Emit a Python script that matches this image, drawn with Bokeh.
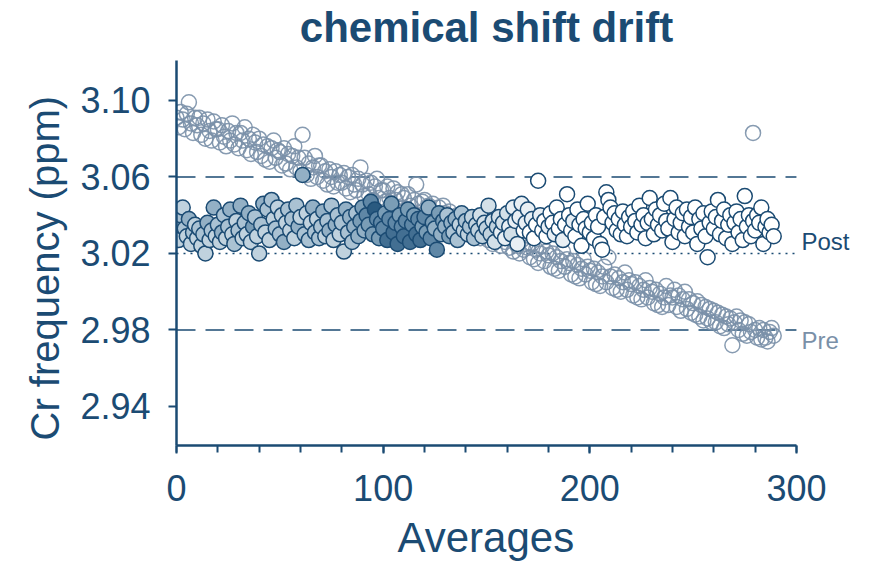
from bokeh.plotting import figure
from bokeh.models import Range1d, Label, Title, ColumnDataSource, FixedTicker, PrintfTickFormatter
from bokeh.transform import linear_cmap
from bokeh.embed import file_html
from bokeh.resources import INLINE

# ---------------- data ----------------
averages = list(range(290))

pre_ppm = [
    3.091, 3.086, 3.094, 3.090, 3.085, 3.093, 3.099, 3.088, 3.083, 3.091,
    3.087, 3.091, 3.082, 3.088, 3.080, 3.090, 3.084, 3.079, 3.089, 3.085,
    3.085, 3.078, 3.087, 3.081, 3.076, 3.084, 3.079, 3.088, 3.077, 3.083,
    3.075, 3.083, 3.079, 3.086, 3.074, 3.080, 3.072, 3.082, 3.078, 3.073,
    3.080, 3.071, 3.077, 3.069, 3.076, 3.068, 3.075, 3.079, 3.070, 3.074,
    3.073, 3.066, 3.075, 3.067, 3.072, 3.064, 3.071, 3.076, 3.065, 3.070,
    3.063, 3.082, 3.070, 3.061, 3.067, 3.059, 3.065, 3.071, 3.060, 3.066,
    3.066, 3.058, 3.063, 3.056, 3.064, 3.060, 3.055, 3.063, 3.057, 3.061,
    3.057, 3.062, 3.054, 3.060, 3.052, 3.061, 3.056, 3.053, 3.059, 3.065,
    3.056, 3.050, 3.058, 3.051, 3.057, 3.048, 3.055, 3.059, 3.049, 3.053,
    3.053, 3.047, 3.055, 3.049, 3.045, 3.054, 3.048, 3.052, 3.044, 3.051,
    3.049, 3.043, 3.051, 3.045, 3.041, 3.048, 3.056, 3.046, 3.040, 3.047,
    3.048, 3.039, 3.045, 3.038, 3.046, 3.041, 3.037, 3.044, 3.039, 3.045,
    3.041, 3.035, 3.042, 3.033, 3.039, 3.036, 3.040, 3.032, 3.038, 3.034,
    3.037, 3.031, 3.036, 3.029, 3.035, 3.032, 3.036, 3.028, 3.034, 3.030,
    3.033, 3.027, 3.032, 3.025, 3.031, 3.028, 3.032, 3.024, 3.030, 3.026,
    3.029, 3.023, 3.028, 3.021, 3.027, 3.024, 3.020, 3.027, 3.022, 3.025,
    3.023, 3.018, 3.025, 3.017, 3.022, 3.015, 3.020, 3.024, 3.016, 3.021,
    3.019, 3.013, 3.020, 3.012, 3.018, 3.011, 3.016, 3.021, 3.013, 3.017,
    3.015, 3.009, 3.016, 3.008, 3.014, 3.007, 3.012, 3.017, 3.009, 3.013,
    3.011, 3.005, 3.012, 3.004, 3.010, 3.003, 3.008, 3.013, 3.005, 3.018,
    3.008, 3.002, 3.009, 3.001, 3.007, 3.000, 3.005, 3.010, 3.001, 3.006,
    3.004, 2.998, 3.005, 2.997, 3.003, 2.996, 3.001, 3.006, 2.997, 3.002,
    3.000, 2.994, 3.001, 2.993, 2.999, 2.992, 2.997, 3.003, 2.993, 2.998,
    2.997, 3.001, 2.992, 2.998, 2.990, 2.996, 3.000, 2.991, 2.996, 2.989,
    2.994, 2.988, 2.995, 2.987, 2.993, 2.985, 2.992, 2.986, 2.991, 2.984,
    2.990, 2.984, 2.989, 2.982, 2.988, 2.981, 2.987, 2.983, 2.986, 2.972,
    2.984, 2.987, 2.980, 2.985, 2.978, 2.984, 2.977, 2.983, 2.979, 3.083,
    2.980, 2.976, 2.981, 2.975, 2.980, 2.976, 2.974, 2.979, 2.981, 2.977,
]

post_ppm = [
    3.037, 3.027, 3.040, 3.044, 3.033, 3.029, 3.038, 3.025, 3.031, 3.035,
    3.028, 3.033, 3.024, 3.030, 3.020, 3.036, 3.027, 3.032, 3.044, 3.029,
    3.035, 3.026, 3.031, 3.040, 3.028, 3.034, 3.043, 3.030, 3.025, 3.037,
    3.032, 3.045, 3.028, 3.036, 3.030, 3.041, 3.026, 3.034, 3.039, 3.029,
    3.020, 3.035, 3.046, 3.031, 3.043, 3.027, 3.048, 3.038, 3.033, 3.044,
    3.030, 3.040, 3.026, 3.036, 3.043, 3.032, 3.038, 3.028, 3.045, 3.034,
    3.039, 3.061, 3.030, 3.041, 3.027, 3.036, 3.044, 3.031, 3.038, 3.028,
    3.034, 3.042, 3.029, 3.037, 3.032, 3.045, 3.027, 3.035, 3.040, 3.030,
    3.036, 3.021, 3.043, 3.031, 3.039, 3.026, 3.034, 3.041, 3.029, 3.037,
    3.044, 3.032, 3.040, 3.035, 3.047, 3.030, 3.043, 3.038, 3.028, 3.036,
    3.033, 3.041, 3.027, 3.038, 3.046, 3.031, 3.036, 3.025, 3.040, 3.034,
    3.029, 3.037, 3.043, 3.026, 3.035, 3.040, 3.030, 3.038, 3.027, 3.034,
    3.039, 3.031, 3.044, 3.028, 3.036, 3.033, 3.022, 3.041, 3.030, 3.037,
    3.034, 3.040, 3.029, 3.036, 3.031, 3.038, 3.027, 3.035, 3.041, 3.032,
    3.037, 3.030, 3.034, 3.039, 3.028, 3.035, 3.032, 3.040, 3.029, 3.036,
    3.033, 3.045, 3.030, 3.037, 3.026, 3.034, 3.039, 3.031, 3.036, 3.028,
    3.041, 3.034, 3.030, 3.044, 3.037, 3.025, 3.039, 3.046, 3.032, 3.036,
    3.043, 3.031, 3.038, 3.028, 3.035, 3.058, 3.040, 3.032, 3.037, 3.029,
    3.034, 3.041, 3.036, 3.030, 3.044, 3.033, 3.038, 3.027, 3.035, 3.051,
    3.040, 3.032, 3.037, 3.029, 3.043, 3.035, 3.024, 3.038, 3.033, 3.046,
    3.031, 3.036, 3.028, 3.040, 3.034, 3.025, 3.022, 3.039, 3.052, 3.048,
    3.044, 3.036, 3.041, 3.032, 3.038, 3.030, 3.042, 3.035, 3.029, 3.039,
    3.034, 3.042, 3.037, 3.031, 3.045, 3.035, 3.040, 3.028, 3.036, 3.049,
    3.038, 3.030, 3.043, 3.035, 3.040, 3.032, 3.046, 3.037, 3.033, 3.049,
    3.026, 3.038, 3.044, 3.031, 3.036, 3.041, 3.029, 3.043, 3.034, 3.039,
    3.031, 3.044, 3.025, 3.038, 3.033, 3.041, 3.029, 3.018, 3.036, 3.042,
    3.033, 3.039, 3.048, 3.030, 3.037, 3.043, 3.028, 3.035, 3.040, 3.025,
    3.036, 3.042, 3.031, 3.038, 3.027, 3.050, 3.034, 3.040, 3.029, 3.037,
    3.032, 3.040, 3.036, 3.044, 3.025, 3.034, 3.038, 3.031, 3.035, 3.029,
]

post_shade = [
    0.5, 0.3, 0.4, 0.3, 0.4, 0.3, 0.5, 0.3, 0.4, 0.3,
    0.3, 0.4, 0.3, 0.4, 0.3, 0.5, 0.3, 0.4, 0.5, 0.3,
    0.4, 0.3, 0.5, 0.4, 0.3, 0.4, 0.5, 0.3, 0.4, 0.3,
    0.4, 0.5, 0.3, 0.4, 0.3, 0.5, 0.3, 0.6, 0.4, 0.3,
    0.3, 0.4, 0.5, 0.3, 0.4, 0.3, 0.4, 0.3, 0.4, 0.3,
    0.4, 0.3, 0.5, 0.3, 0.4, 0.3, 0.4, 0.3, 0.4, 0.5,
    0.3, 0.5, 0.4, 0.3, 0.4, 0.3, 0.5, 0.4, 0.3, 0.4,
    0.4, 0.5, 0.3, 0.4, 0.5, 0.4, 0.3, 0.5, 0.4, 0.3,
    0.4, 0.3, 0.5, 0.4, 0.5, 0.4, 0.5, 0.4, 0.5, 0.6,
    0.6, 0.5, 0.7, 0.6, 0.7, 0.6, 0.9, 0.7, 0.6, 0.7,
    0.7, 0.6, 0.8, 0.7, 0.6, 0.8, 0.7, 0.8, 0.6, 0.7,
    0.8, 0.7, 0.6, 0.8, 0.7, 0.6, 0.8, 0.7, 0.8, 0.6,
    0.7, 0.6, 0.5, 0.7, 0.6, 0.5, 0.7, 0.6, 0.5, 0.6,
    0.5, 0.4, 0.6, 0.5, 0.4, 0.5, 0.4, 0.3, 0.4, 0.3,
    0.4, 0.3, 0.4, 0.3, 0.4, 0.3, 0.3, 0.2, 0.3, 0.2,
    0.3, 0.2, 0.3, 0.2, 0.2, 0.3, 0.2, 0.1, 0.2, 0.1,
    0.2, 0.1, 0.2, 0.1, 0.1, 0.1, 0.1, 0.1, 0.0, 0.1,
    0.1, 0.0, 0.1, 0.0, 0.0, 0.0, 0.1, 0.0, 0.0, 0.0,
    0.1, 0.0, 0.0, 0.1, 0.0, 0.0, 0.0, 0.1, 0.0, 0.0,
    0.0, 0.0, 0.1, 0.0, 0.0, 0.0, 0.0, 0.0, 0.0, 0.0,
    0.0, 0.0, 0.0, 0.0, 0.0, 0.0, 0.0, 0.0, 0.0, 0.0,
    0.0, 0.0, 0.0, 0.0, 0.0, 0.0, 0.0, 0.0, 0.0, 0.0,
    0.0, 0.0, 0.0, 0.0, 0.0, 0.0, 0.0, 0.0, 0.0, 0.0,
    0.0, 0.0, 0.0, 0.0, 0.0, 0.0, 0.0, 0.0, 0.0, 0.0,
    0.0, 0.0, 0.0, 0.0, 0.0, 0.0, 0.0, 0.0, 0.0, 0.0,
    0.0, 0.0, 0.0, 0.0, 0.0, 0.0, 0.0, 0.0, 0.0, 0.0,
    0.0, 0.0, 0.0, 0.0, 0.0, 0.0, 0.0, 0.0, 0.0, 0.0,
    0.0, 0.0, 0.0, 0.0, 0.0, 0.0, 0.0, 0.0, 0.0, 0.0,
    0.0, 0.0, 0.0, 0.0, 0.0, 0.0, 0.0, 0.0, 0.0, 0.0,
]

upper_level = 3.06
post_level = 3.02
pre_level = 2.98

x_min, x_max = 0, 300
y_min, y_max = 2.9196, 3.1209
x_ticks = [0, 100, 200, 300]
x_minor_ticks = [0, 20, 40, 60, 80, 100, 120, 140, 160, 180, 200, 220, 240, 260, 280, 300]
y_ticks = [2.94, 2.98, 3.02, 3.06, 3.10]

# ---------------- styling ----------------
NAVY = "#1b4b73"
PRE_COL = "#7a90a8"
FONT = "Liberation Sans"
shade_palette = ["#ffffff", "#e8eff4", "#d3e0e8", "#c0d2de", "#aac2d3", "#93b0c5",
                 "#7a9db6", "#5f87a6", "#436f92", "#2a5a80", "#12426a"]

# The frame reaches past the axes (right and top) so that the Post / Pre labels and the
# title can be drawn as in-frame text; the axes themselves are bounded to the data extent.
p = figure(width=871, height=572, output_backend="svg", toolbar_location=None,
           x_range=Range1d(x_min, 333.9), y_range=Range1d(y_min, 3.1512),
           min_border_left=176, min_border_right=5, min_border_top=2, min_border_bottom=127)
p.outline_line_color = None
p.xgrid.visible = False
p.ygrid.visible = False
p.background_fill_color = "white"
p.border_fill_color = "white"

for ax in (p.xaxis[0], p.yaxis[0]):
    ax.axis_line_color = NAVY
    ax.axis_line_width = 2.5
    ax.major_tick_line_color = NAVY
    ax.major_tick_line_width = 2
    ax.minor_tick_line_color = NAVY
    ax.minor_tick_line_width = 2
    ax.major_tick_in = 0
    ax.major_tick_out = 8
    ax.minor_tick_in = 0
    ax.minor_tick_out = 7
    ax.major_label_text_font = FONT
    ax.major_label_text_font_size = "36px"
    ax.major_label_text_color = NAVY

p.xaxis.bounds = (x_min, x_max)
p.yaxis.bounds = (y_min, y_max)
p.xaxis.ticker = FixedTicker(ticks=x_ticks, minor_ticks=x_minor_ticks)
p.yaxis.ticker = FixedTicker(ticks=y_ticks, minor_ticks=[])
p.yaxis.formatter = PrintfTickFormatter(format="%.2f")
p.xaxis.major_label_standoff = 21
p.yaxis.major_label_standoff = 18

# axis titles, positioned along the bounded axes (not along the wider frame)
p.add_layout(Title(text="Averages", align="left", offset=221, standoff=16,
                   text_font=FONT, text_font_size="42px", text_font_style="normal",
                   text_color=NAVY), "below")
p.add_layout(Title(text="Cr frequency (ppm)", align="left", offset=5, standoff=21,
                   text_font=FONT, text_font_size="40px", text_font_style="normal",
                   text_color=NAVY), "left")

# reference lines across the axis extent
dash_src = ColumnDataSource(dict(x0=[x_min, x_min], x1=[x_max, x_max],
                                 y=[upper_level, pre_level]))
dot_src = ColumnDataSource(dict(x0=[x_min], x1=[x_max], y=[post_level]))
p.segment(x0="x0", x1="x1", y0="y", y1="y", source=dash_src, line_color=NAVY,
          line_width=1.6, line_dash="19 10")
p.segment(x0="x0", x1="x1", y0="y", y1="y", source=dot_src, line_color=NAVY,
          line_width=1.6, line_dash="2 5")

# data
pre_src = ColumnDataSource(dict(x=averages, y=pre_ppm))
post_src = ColumnDataSource(dict(x=averages, y=post_ppm, shade=post_shade))

p.scatter("x", "y", source=pre_src, marker="circle", size=15,
          fill_color=None, line_color=PRE_COL, line_alpha=0.9, line_width=1.5)
p.scatter("x", "y", source=post_src, marker="circle", size=15,
          fill_color=linear_cmap("shade", shade_palette, 0, 1),
          line_color=NAVY, line_width=1.5)

p.add_layout(Label(x=x_max, y=post_level, x_offset=5, y_offset=12, text="Post",
                   text_font=FONT, text_font_size="24px", text_color=NAVY,
                   text_baseline="middle"))
p.add_layout(Label(x=x_max, y=pre_level, x_offset=5, y_offset=-11, text="Pre",
                   text_font=FONT, text_font_size="24px", text_color=PRE_COL,
                   text_baseline="middle"))

# chart title
p.add_layout(Label(x=(x_min + x_max) / 2, y=y_max, y_offset=33, text="chemical shift drift",
                   text_font=FONT, text_font_size="42px", text_font_style="bold",
                   text_color=NAVY, text_align="center", text_baseline="middle"))

open("out.html", "w").write(file_html(p, INLINE))
